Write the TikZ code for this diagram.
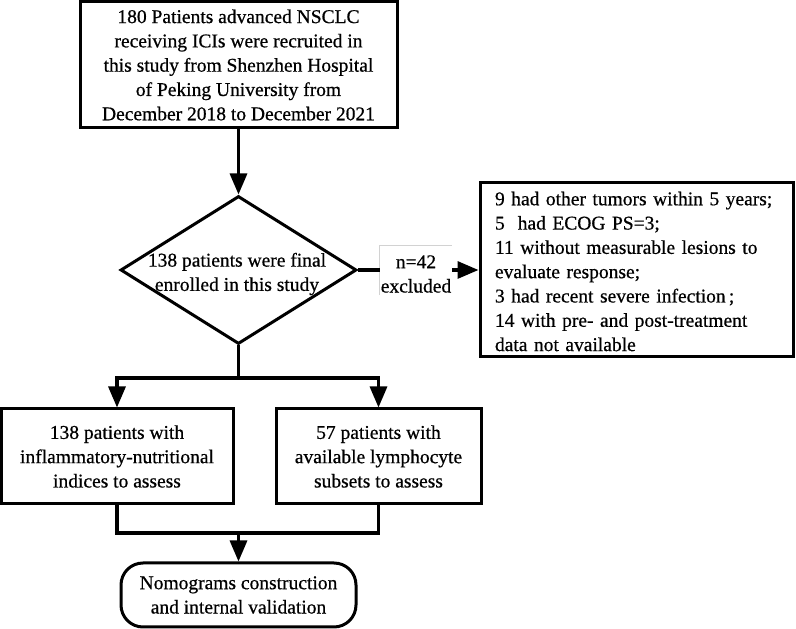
\documentclass[tikz,border=0pt]{standalone}
\usepackage{fontspec}
\setmainfont{Liberation Serif}
\newfontfamily\heavyserif{Liberation Serif}[FakeBold=0.6]
\usetikzlibrary{shapes.geometric,arrows.meta}
\begin{document}
\begin{tikzpicture}[x=1pt,y=1pt,
  txt/.style={font=\heavyserif\fontsize{19.5}{24.3}\selectfont, align=center, inner sep=0pt},
  box/.style={txt, draw, line width=3pt},
  conn/.style={line width=3.2pt},
  arr/.style={conn, -{Triangle[length=21pt,width=17pt]}},
]
\useasboundingbox (0,0) rectangle (796,629);
% nodes
\node[box, minimum width=317pt, minimum height=126pt] (top) at (238.5,564)
  {180 Patients advanced NSCLC\\receiving ICIs were recruited in\\this study from Shenzhen Hospital\\of Peking University from\\December 2018 to December 2021};
\node[diamond, draw, line width=3pt, minimum width=236pt, minimum height=148pt, inner sep=0pt] (dia) at (238.5,359) {};
\node[txt] (diatext) at (237,355) {138 patients were final\\enrolled in this study};
\node[minimum width=72pt, minimum height=49pt, inner sep=0pt] (lab) at (416,358.5) {};
\node[txt] (labtext) at (416,355) {n=42\\excluded};
\node[box, minimum width=313pt, minimum height=174pt] (exc) at (636.5,359) {};
\node[txt, text width=283pt, align=left] (exctext) at (636.5,357.5)
  {9 had other tumors within 5 years;\\
   5\ \ had ECOG PS=3;\\
   11 without measurable lesions to\\
   evaluate response;\\
   3 had recent severe infection\,;\\
   14 with pre- and post-treatment\\
   data not available};
\node[box, minimum width=232pt, minimum height=95pt] (left) at (117,172.5)
  {138 patients with\\inflammatory-nutritional\\indices to assess};
\node[box, minimum width=205pt, minimum height=95pt] (right) at (378.5,172.5)
  {57 patients with\\available lymphocyte\\subsets to assess};
\node[box, rounded corners=22pt, minimum width=235pt, minimum height=64pt] (final) at (238.5,34)
  {Nomograms construction\\and internal validation};
% light frame of label
\draw[gray!35, line width=0.8pt] (lab.south west) |- (lab.north east);
% connectors
\draw[arr] (top.south) -- (dia.north);
\draw[conn] (dia.east) -- (dia.east -| lab.west);
\draw[arr] (lab.east |- exc.west) -- (exc.west);
\coordinate (split) at (238.5,251);
\draw[conn] (dia.south) -- (split);
\draw[arr] (split) -| (left.north);
\draw[arr] (split) -| (right.north);
\coordinate (merge) at (238.5,96);
\draw[conn] (left.south) |- (merge) -| (right.south);
\draw[arr] (merge) -- (final.north);
\end{tikzpicture}
\end{document}
